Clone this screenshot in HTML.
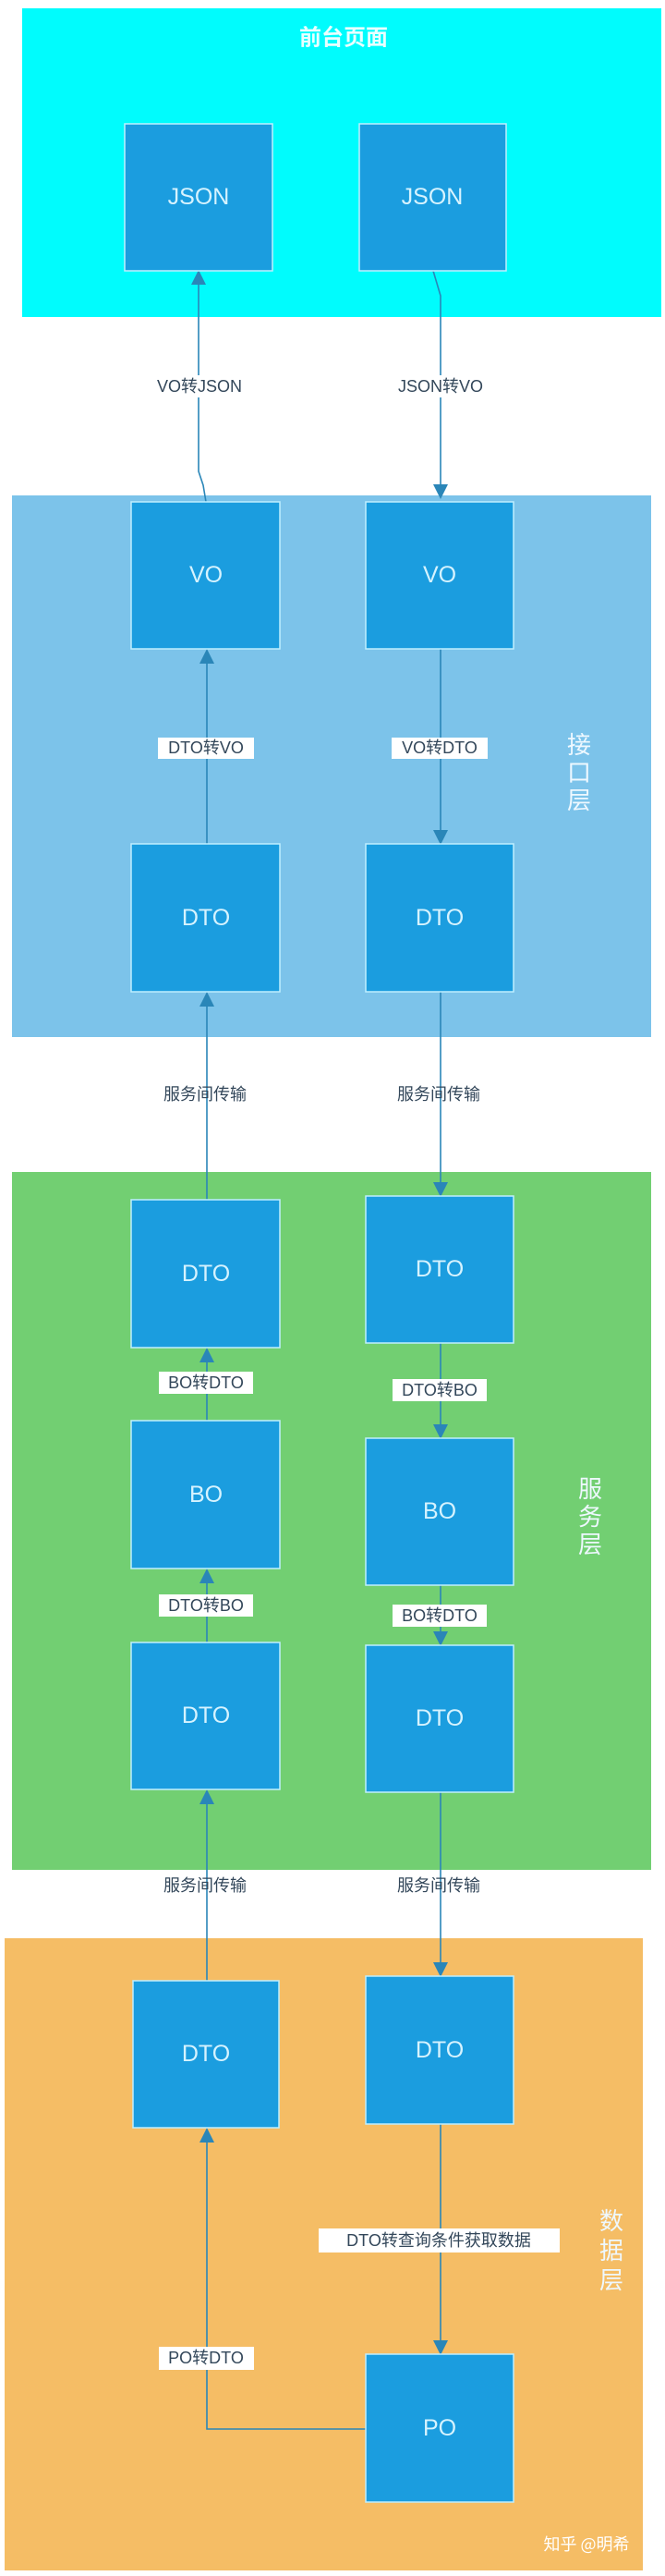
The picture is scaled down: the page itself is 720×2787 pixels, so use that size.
<!DOCTYPE html>
<html><head><meta charset="utf-8"><style>
html,body{margin:0;padding:0;background:#fff;}
svg{display:block;}
.bx{fill:#1b9ddf;stroke:#bfefff;stroke-width:1.5;}
.bt{fill:#d6f3ff;font-family:"Liberation Sans","Noto Sans CJK SC",sans-serif;font-size:25px;text-anchor:middle;dominant-baseline:central;}
.ln{stroke:#2a86b8;stroke-width:1.6;fill:none;}
.lb{fill:#33475a;font-family:"Liberation Sans","Noto Sans CJK SC",sans-serif;font-size:18px;text-anchor:middle;dominant-baseline:central;}
.ly{fill:#eef8ff;font-family:"Noto Sans CJK SC",sans-serif;font-size:26px;text-anchor:middle;}
</style></head><body>
<svg width="720" height="2787" viewBox="0 0 720 2787" xmlns="http://www.w3.org/2000/svg">
<defs><marker id="a" markerWidth="10" markerHeight="10" refX="5" refY="5" orient="auto"><path d="M0,0 L10,5 L0,10 z" fill="#2a86b8"/></marker></defs>
<rect x="24" y="9" width="692" height="334" fill="#00fcfd"/>
<text x="372" y="38" style="font-family:'Noto Sans CJK SC',sans-serif;font-size:24px;font-weight:bold;fill:#e8ffff;text-anchor:middle;dominant-baseline:central">前台页面</text>
<rect x="13" y="536" width="692" height="586" fill="#7cc3ea"/>
<rect x="13" y="1268" width="692" height="755" fill="#72cf72"/>
<rect x="5" y="2097" width="691" height="684" fill="#f5bd65"/>
<text class="ly" x="627" y="815">接</text><text class="ly" x="627" y="845">口</text><text class="ly" x="627" y="875">层</text>
<text class="ly" x="639" y="1620">服</text><text class="ly" x="639" y="1650">务</text><text class="ly" x="639" y="1680">层</text>
<text class="ly" x="662" y="2412">数</text><text class="ly" x="662" y="2444">据</text><text class="ly" x="662" y="2476">层</text>
<path class="ln" d="M223,543 L220,525 L215,510 L215,300" marker-end="url(#a)"/>
<path class="ln" d="M469,293 L477,320 L477,532" marker-end="url(#a)"/>
<path class="ln" d="M224,913 L224,710" marker-end="url(#a)"/>
<path class="ln" d="M477,702 L477,906" marker-end="url(#a)"/>
<path class="ln" d="M224,1298 L224,1081" marker-end="url(#a)"/>
<path class="ln" d="M477,1073 L477,1287" marker-end="url(#a)"/>
<path class="ln" d="M224,1537 L224,1466" marker-end="url(#a)"/>
<path class="ln" d="M477,1453 L477,1549" marker-end="url(#a)"/>
<path class="ln" d="M224,1777 L224,1705" marker-end="url(#a)"/>
<path class="ln" d="M477,1715 L477,1773" marker-end="url(#a)"/>
<path class="ln" d="M224,2143 L224,1944" marker-end="url(#a)"/>
<path class="ln" d="M477,1939 L477,2131" marker-end="url(#a)"/>
<path class="ln" d="M396,2628 L224,2628 L224,2310" marker-end="url(#a)"/>
<path class="ln" d="M477,2298 L477,2540" marker-end="url(#a)"/>
<rect x="157" y="406" width="118" height="24" fill="#fff"/><text class="lb" x="216" y="418">VO转JSON</text>
<rect x="418" y="406" width="118" height="24" fill="#fff"/><text class="lb" x="477" y="418">JSON转VO</text>
<rect x="171" y="798" width="104" height="23" fill="#fff"/><text class="lb" x="223" y="809">DTO转VO</text>
<rect x="424" y="798" width="104" height="23" fill="#fff"/><text class="lb" x="476" y="809">VO转DTO</text>
<text class="lb" x="222" y="1184">服务间传输</text><text class="lb" x="475" y="1184">服务间传输</text>
<rect x="172" y="1484" width="102" height="24" fill="#fff"/><text class="lb" x="223" y="1496">BO转DTO</text>
<rect x="425" y="1492" width="102" height="24" fill="#fff"/><text class="lb" x="476" y="1504">DTO转BO</text>
<rect x="172" y="1725" width="102" height="24" fill="#fff"/><text class="lb" x="223" y="1737">DTO转BO</text>
<rect x="425" y="1736" width="102" height="24" fill="#fff"/><text class="lb" x="476" y="1748">BO转DTO</text>
<text class="lb" x="222" y="2040">服务间传输</text><text class="lb" x="475" y="2040">服务间传输</text>
<rect x="345" y="2411" width="261" height="26" fill="#fff"/><text class="lb" x="475" y="2424">DTO转查询条件获取数据</text>
<rect x="172" y="2539" width="103" height="25" fill="#fff"/><text class="lb" x="223" y="2551">PO转DTO</text>
<rect class="bx" x="135" y="134" width="160" height="159"/><text class="bt" x="215" y="213">JSON</text>
<rect class="bx" x="389" y="134" width="159" height="159"/><text class="bt" x="468" y="213">JSON</text>
<rect class="bx" x="142" y="543" width="161" height="159"/><text class="bt" x="223" y="622">VO</text>
<rect class="bx" x="396" y="543" width="160" height="159"/><text class="bt" x="476" y="622">VO</text>
<rect class="bx" x="142" y="913" width="161" height="160"/><text class="bt" x="223" y="993">DTO</text>
<rect class="bx" x="396" y="913" width="160" height="160"/><text class="bt" x="476" y="993">DTO</text>
<rect class="bx" x="142" y="1298" width="161" height="160"/><text class="bt" x="223" y="1378">DTO</text>
<rect class="bx" x="396" y="1294" width="160" height="159"/><text class="bt" x="476" y="1373">DTO</text>
<rect class="bx" x="142" y="1537" width="161" height="160"/><text class="bt" x="223" y="1617">BO</text>
<rect class="bx" x="396" y="1556" width="160" height="159"/><text class="bt" x="476" y="1635">BO</text>
<rect class="bx" x="142" y="1777" width="161" height="159"/><text class="bt" x="223" y="1856">DTO</text>
<rect class="bx" x="396" y="1780" width="160" height="159"/><text class="bt" x="476" y="1859">DTO</text>
<rect class="bx" x="144" y="2143" width="158" height="159"/><text class="bt" x="223" y="2222">DTO</text>
<rect class="bx" x="396" y="2138" width="160" height="160"/><text class="bt" x="476" y="2218">DTO</text>
<rect class="bx" x="396" y="2547" width="160" height="160"/><text class="bt" x="476" y="2627">PO</text>
<text x="635" y="2752" style="font-family:'Noto Sans CJK SC',sans-serif;font-size:18px;fill:#fff;text-anchor:middle;dominant-baseline:central">知乎 @明希</text>
</svg>
</body></html>
